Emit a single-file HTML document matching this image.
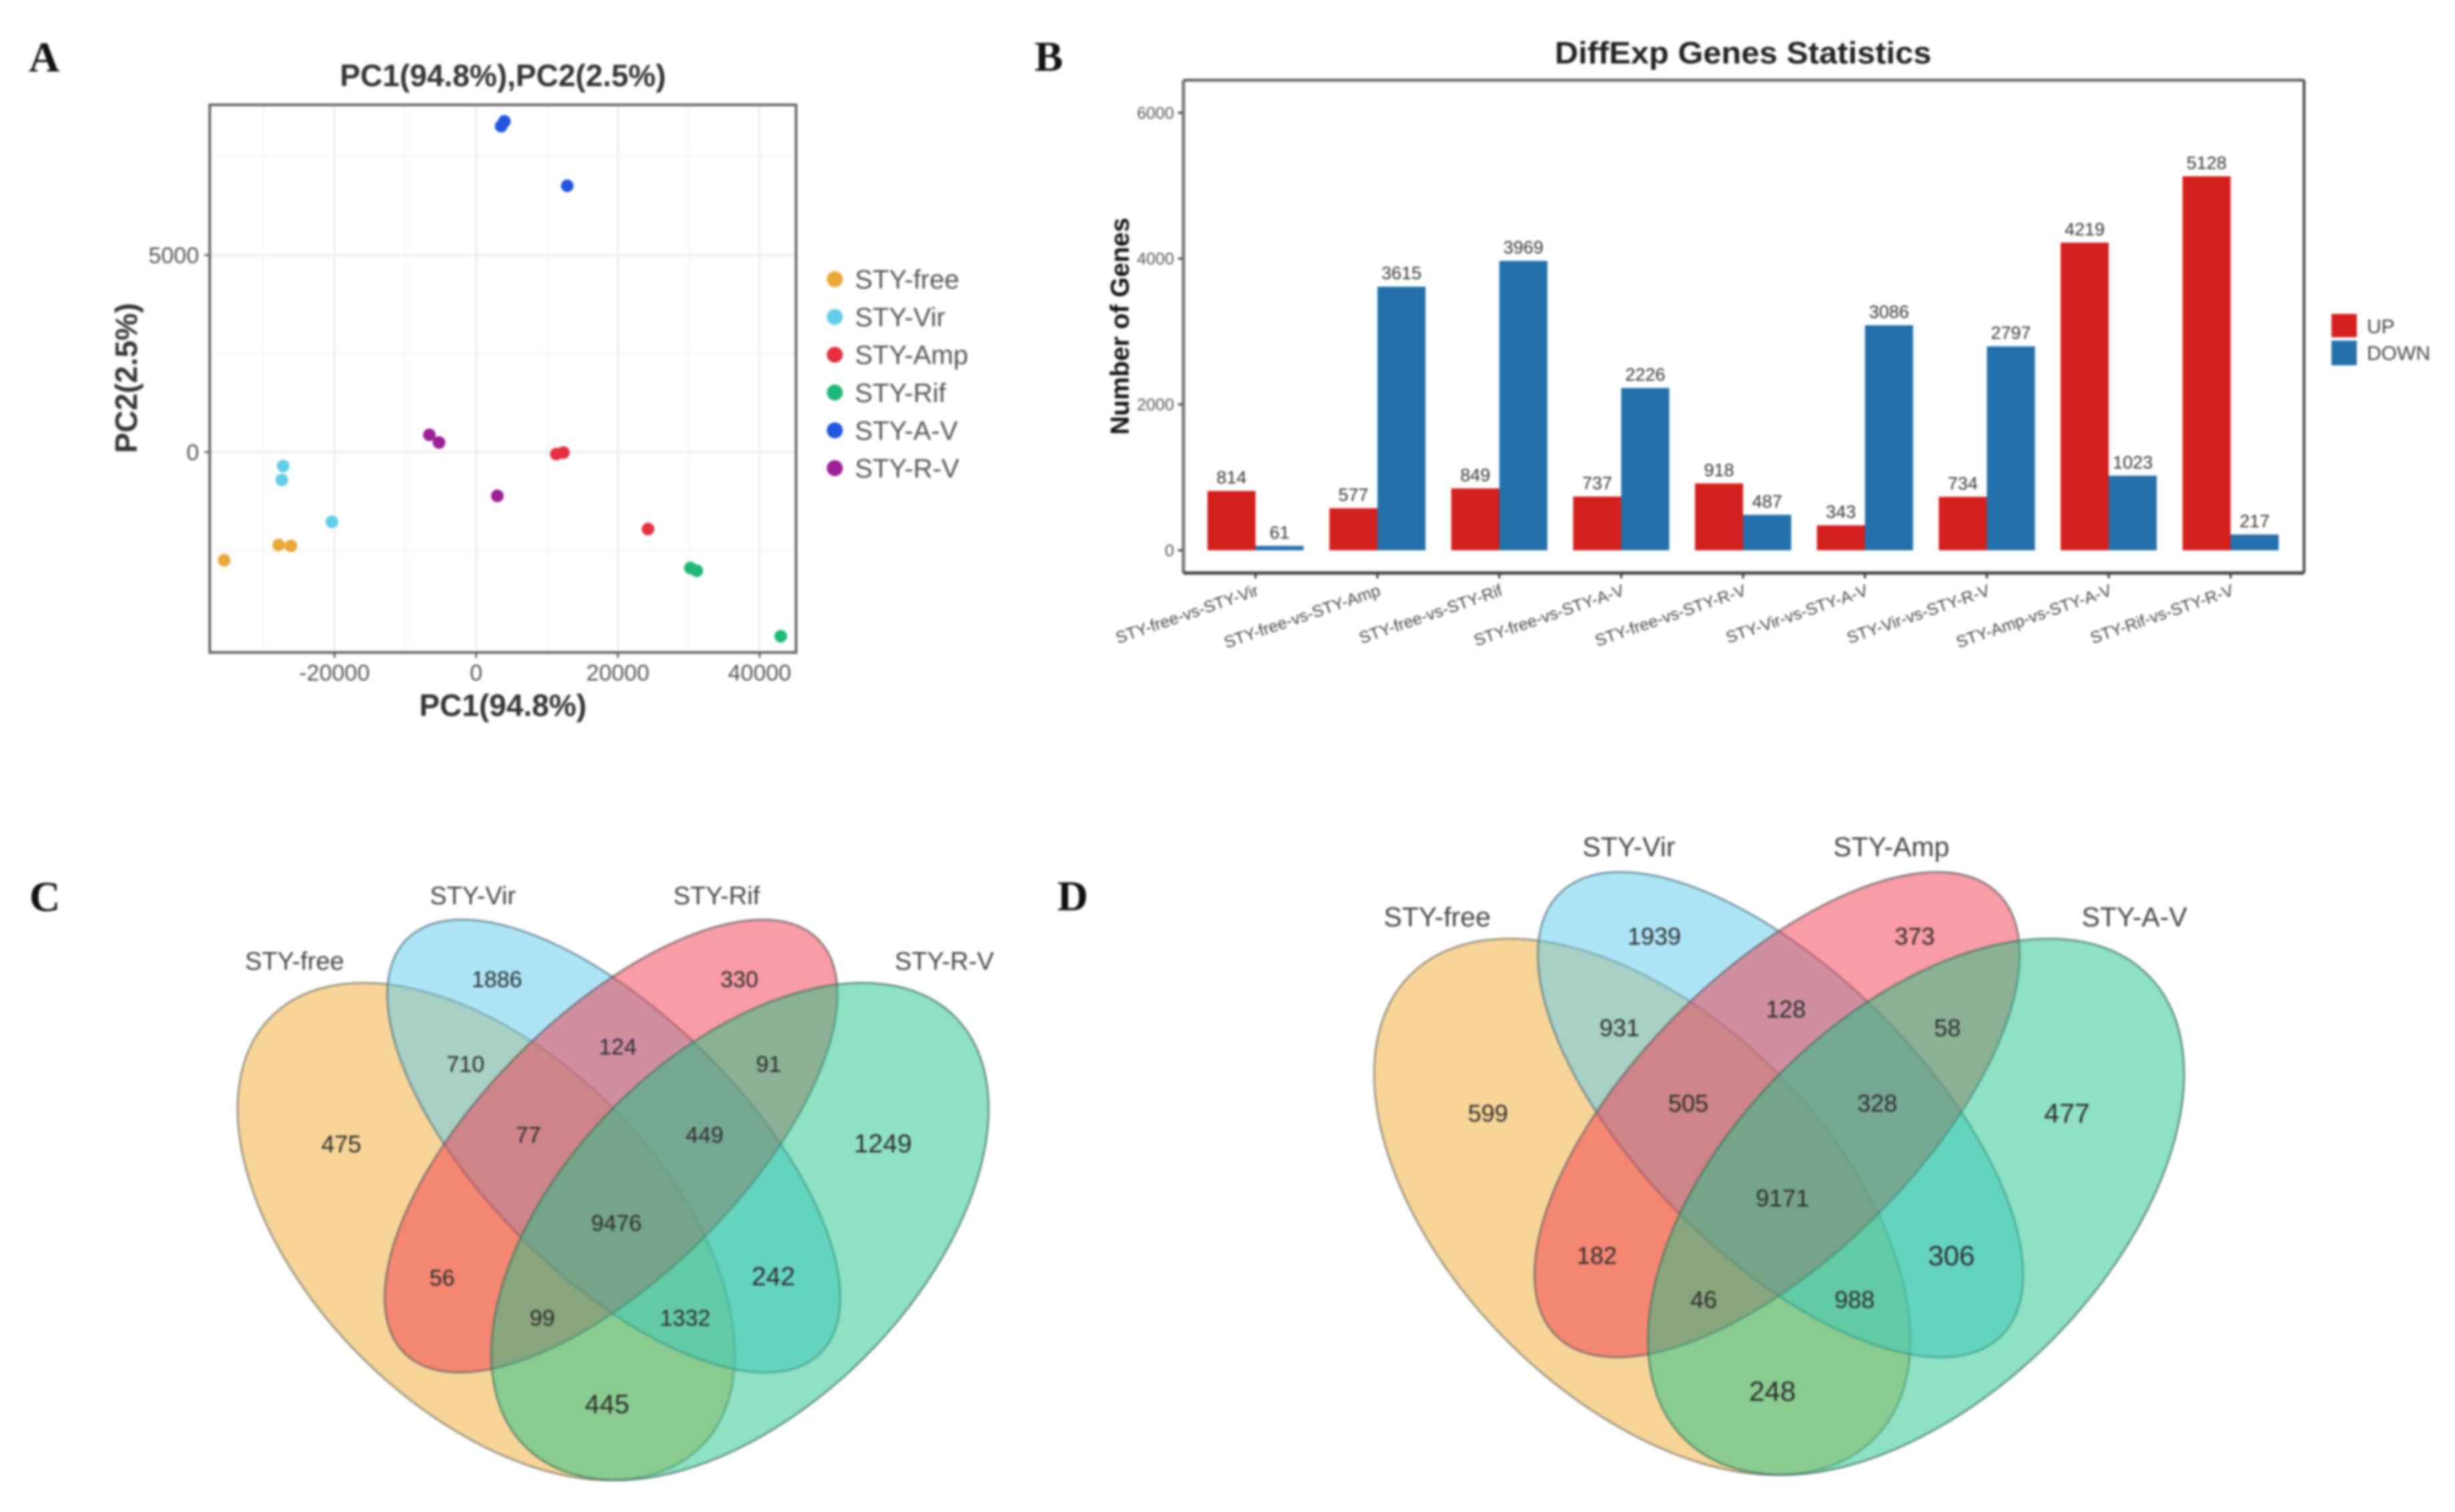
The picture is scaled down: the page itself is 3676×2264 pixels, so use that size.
<!DOCTYPE html>
<html lang="en">
<head>
<meta charset="utf-8">
<title>Transcriptome figure panels A-D</title>
<style>
html,body{margin:0;padding:0;background:#fff;}
svg{display:block;filter:blur(1.6px);}
text{font-family:"Liberation Sans",sans-serif;}
.letter{font-family:"Liberation Serif",serif;font-weight:bold;font-size:64px;fill:#111;}
.vlabel{font-size:38px;fill:#444;text-anchor:middle;dominant-baseline:central;}
.vnum{font-size:36px;fill:#2c2c2c;text-anchor:middle;dominant-baseline:central;}
.cnum{font-size:34px;}
.free{fill:#EFAC33;fill-opacity:.5;stroke:#6b6b5c;stroke-opacity:.65;stroke-width:3;}
.vir{fill:#5BCBF0;fill-opacity:.5;stroke:#4d6f7d;stroke-opacity:.7;stroke-width:3;}
.red{fill:#F23A4C;fill-opacity:.5;stroke:#5e5a5e;stroke-opacity:.7;stroke-width:3;}
.grn{fill:#1DC487;fill-opacity:.5;stroke:#3f6f5e;stroke-opacity:.7;stroke-width:3;}
</style>
</head>
<body>
<svg id="fig" xmlns="http://www.w3.org/2000/svg" width="3676" height="2264" viewBox="0 0 3676 2264">
  <rect width="3676" height="2264" fill="#fff"/>
  <text class="letter" x="43" y="107">A</text>
  <text class="letter" x="1549" y="106">B</text>
  <text class="letter" x="44" y="1364">C</text>
  <text class="letter" x="1583" y="1363">D</text>

  <g id="pca"></g>
  <g id="bars"></g>

  <g>
    <ellipse class="free" cx="728" cy="1844" rx="455" ry="265" transform="rotate(45 728 1844)"/>
    <ellipse class="vir" cx="919" cy="1716" rx="438" ry="195" transform="rotate(45 919 1716)"/>
    <ellipse class="red" cx="915" cy="1716" rx="438" ry="195" transform="rotate(-45 915 1716)"/>
    <ellipse class="grn" cx="1108" cy="1844" rx="455" ry="265" transform="rotate(-45 1108 1844)"/>
    <text class="vlabel" x="441" y="1440">STY-free</text>
    <text class="vlabel" x="708" y="1342">STY-Vir</text>
    <text class="vlabel" x="1073" y="1342">STY-Rif</text>
    <text class="vlabel" x="1414" y="1440">STY-R-V</text>
    <g>
      <text class="vnum cnum" x="744" y="1467">1886</text>
      <text class="vnum cnum" x="1107" y="1467">330</text>
      <text class="vnum cnum" x="697" y="1594">710</text>
      <text class="vnum cnum" x="925" y="1568">124</text>
      <text class="vnum cnum" x="1151" y="1594">91</text>
      <text class="vnum cnum" x="791" y="1700">77</text>
      <text class="vnum cnum" x="1055" y="1700">449</text>
      <text class="vnum" x="511" y="1713">475</text>
      <text class="vnum" x="1322" y="1713" style="font-size:39px">1249</text>
      <text class="vnum cnum" x="923" y="1832">9476</text>
      <text class="vnum cnum" x="662" y="1914">56</text>
      <text class="vnum" x="1158" y="1912" style="font-size:39px">242</text>
      <text class="vnum cnum" x="812" y="1974">99</text>
      <text class="vnum cnum" x="1026" y="1974">1332</text>
      <text class="vnum" x="909" y="2103" style="font-size:40px">445</text>
    </g>
  </g>

  <g>
    <ellipse class="free" cx="2459" cy="1807" rx="491" ry="285" transform="rotate(45 2459 1807)"/>
    <ellipse class="vir" cx="2666" cy="1669" rx="468" ry="212" transform="rotate(45 2666 1669)"/>
    <ellipse class="red" cx="2661" cy="1669" rx="468" ry="212" transform="rotate(-45 2661 1669)"/>
    <ellipse class="grn" cx="2869" cy="1807" rx="491" ry="285" transform="rotate(-45 2869 1807)"/>
    <text class="vlabel" x="2152" y="1373" style="font-size:41px">STY-free</text>
    <text class="vlabel" x="2439" y="1268" style="font-size:41px">STY-Vir</text>
    <text class="vlabel" x="2832" y="1268" style="font-size:41px">STY-Amp</text>
    <text class="vlabel" x="3196" y="1373" style="font-size:41px">STY-A-V</text>
    <g>
      <text class="vnum" x="2477" y="1402">1939</text>
      <text class="vnum" x="2867" y="1402">373</text>
      <text class="vnum" x="2425" y="1539">931</text>
      <text class="vnum" x="2674" y="1511">128</text>
      <text class="vnum" x="2916" y="1539">58</text>
      <text class="vnum" x="2528" y="1652">505</text>
      <text class="vnum" x="2811" y="1652">328</text>
      <text class="vnum" x="2228" y="1667">599</text>
      <text class="vnum" x="3095" y="1667" style="font-size:41px">477</text>
      <text class="vnum" x="2669" y="1794">9171</text>
      <text class="vnum" x="2391" y="1880">182</text>
      <text class="vnum" x="2922" y="1880" style="font-size:42px">306</text>
      <text class="vnum" x="2551" y="1946">46</text>
      <text class="vnum" x="2777" y="1946">988</text>
      <text class="vnum" x="2654" y="2083" style="font-size:42px">248</text>
    </g>
  </g>
</svg>

<script>
// ---- PCA data ----
const pcaGroups = ["STY-free", "STY-Vir", "STY-Amp", "STY-Rif", "STY-A-V", "STY-R-V"];
const pcaColors = ["#E9A93A", "#62CDE8", "#E5303F", "#1FB878", "#2255DD", "#9B1F96"];
const pc1Values = [
  [-35566, -27874, -26155],
  [-27240, -27420, -20360],
  [11312, 12308, 24254],
  [30227, 31132, 42988],
  [3530, 3982, 12851],
  [-6606, -5249, 2986]
];
const pc2Values = [
  [-2745, -2355, -2379],
  [-354, -708, -1769],
  [-49, -12, -1952],
  [-2940, -3013, -4673],
  [8272, 8394, 6759],
  [439, 244, -1110]
];
const pc1Ticks = [-20000, 0, 20000, 40000];
const pc1MinorTicks = [-30000, -10000, 10000, 30000];
const pc2Ticks = [0, 5000];
const pc2MinorTicks = [-2500, 2500, 7500];

// ---- Bar chart data ----
const comparisons = ["STY-free-vs-STY-Vir", "STY-free-vs-STY-Amp", "STY-free-vs-STY-Rif", "STY-free-vs-STY-A-V", "STY-free-vs-STY-R-V", "STY-Vir-vs-STY-A-V", "STY-Vir-vs-STY-R-V", "STY-Amp-vs-STY-A-V", "STY-Rif-vs-STY-R-V"];
const upCounts = [814, 577, 849, 737, 918, 343, 734, 4219, 5128];
const downCounts = [61, 3615, 3969, 2226, 487, 3086, 2797, 1023, 217];
const geneTicks = [0, 2000, 4000, 6000];

const NS = "http://www.w3.org/2000/svg";
function mk(parent, tag, attrs, txt) {
  const el = document.createElementNS(NS, tag);
  for (const k in attrs) el.setAttribute(k, attrs[k]);
  if (txt !== undefined) el.textContent = txt;
  parent.appendChild(el);
  return el;
}

// ---- Panel A ----
const pca = document.getElementById("pca");
const boxA = {l: 314, r: 1192, t: 157, b: 977};
function xA(v) { return 713 + v * 0.01061; }
function yA(v) { return 677 - v * 0.059; }

pc1MinorTicks.forEach(function (v) {
  const g = mk(pca, "line", {x1: xA(v), x2: xA(v), y1: boxA.t, y2: boxA.b, stroke: "#f3f3f3", "stroke-width": 2});
  
  
});
pc2MinorTicks.forEach(function (v) {
  const g = mk(pca, "line", {x1: boxA.l, x2: boxA.r, y1: yA(v), y2: yA(v), stroke: "#f3f3f3", "stroke-width": 2});
  
  
});
pc1Ticks.forEach(function (v) {
  const g = mk(pca, "line", {x1: xA(v), x2: xA(v), y1: boxA.t, y2: boxA.b, stroke: "#ededed", "stroke-width": 3});
  
  
  const t = mk(pca, "line", {x1: xA(v), x2: xA(v), y1: boxA.b, y2: boxA.b + 8, stroke: "#666", "stroke-width": 3});
  
  
  const l = mk(pca, "text", {x: xA(v), y: 1019, "text-anchor": "middle", "font-size": 34, fill: "#555"}, String(v));
  
  
});
pc2Ticks.forEach(function (v) {
  const g = mk(pca, "line", {x1: boxA.l, x2: boxA.r, y1: yA(v), y2: yA(v), stroke: "#ededed", "stroke-width": 3});
  
  
  const t = mk(pca, "line", {x1: boxA.l - 8, x2: boxA.l, y1: yA(v), y2: yA(v), stroke: "#666", "stroke-width": 3});
  
  
  const l = mk(pca, "text", {x: 298, y: yA(v) + 12, "text-anchor": "end", "font-size": 34, fill: "#555"}, String(v));
  
  
});
const frameA = mk(pca, "rect", {x: boxA.l, y: boxA.t, width: boxA.r - boxA.l, height: boxA.b - boxA.t, fill: "none", stroke: "#666", "stroke-width": 4});



pcaGroups.forEach(function (name, i) {
  pc1Values[i].forEach(function (v, j) {
    const c = mk(pca, "circle", {cx: xA(v), cy: yA(pc2Values[i][j]), r: 9.5, fill: pcaColors[i]});
    
    
  });
  const ly = 418 + i * 56.6;
  const d = mk(pca, "circle", {cx: 1250, cy: ly, r: 12, fill: pcaColors[i]});
  
  
  const t = mk(pca, "text", {x: 1280, y: ly + 14, "font-size": 40, fill: "#555"}, name);
  
  
});
const titleA = mk(pca, "text", {x: 753, y: 129, "text-anchor": "middle", "font-size": 46, "font-weight": "bold", fill: "#333"}, "PC1(94.8%),PC2(2.5%)");


const xTitleA = mk(pca, "text", {x: 753, y: 1072, "text-anchor": "middle", "font-size": 46, "font-weight": "bold", fill: "#333"}, "PC1(94.8%)");


const yTitleA = mk(pca, "text", {x: 0, y: 0, transform: "translate(205 566) rotate(-90)", "text-anchor": "middle", "font-size": 46, "font-weight": "bold", fill: "#333"}, "PC2(2.5%)");



// ---- Panel B ----
const bars = document.getElementById("bars");
const boxB = {l: 1772, r: 3450, t: 120, b: 858};
const barW = 72;
function yB(v) { return 824 - v * 0.1092; }
function xB(i) { return 1880 + i * 182.5; }

function drawBar(i, val, isUp) {
  const x = isUp ? xB(i) - barW : xB(i);
  const r = mk(bars, "rect", {x: x, y: yB(val), width: barW, height: yB(0) - yB(val), fill: isUp ? "#D3201F" : "#2470AA"});
  
  
  const t = mk(bars, "text", {x: x + barW / 2, y: yB(val) - 11, "text-anchor": "middle", "font-size": 27, fill: "#333"}, String(val));
  
  
}
comparisons.forEach(function (name, i) {
  drawBar(i, upCounts[i], true);
  drawBar(i, downCounts[i], false);
  const tk = mk(bars, "line", {x1: xB(i), x2: xB(i), y1: boxB.b, y2: boxB.b + 8, stroke: "#333", "stroke-width": 3});
  
  
  const lb = mk(bars, "text", {x: 0, y: 0, transform: "translate(" + (xB(i) + 6) + " 891) rotate(-19)", "text-anchor": "end", "font-size": 25, fill: "#444"}, name);
  
  
});
geneTicks.forEach(function (v) {
  const t = mk(bars, "line", {x1: boxB.l - 8, x2: boxB.l, y1: yB(v), y2: yB(v), stroke: "#333", "stroke-width": 3});
  
  
  const l = mk(bars, "text", {x: boxB.l - 14, y: yB(v) + 9, "text-anchor": "end", "font-size": 25, fill: "#555"}, String(v));
  
  
});
const frameLeft = mk(bars, "line", {x1: boxB.l, x2: boxB.l, y1: boxB.t, y2: boxB.b, stroke: "#777", "stroke-width": 5});


const frameTop = mk(bars, "line", {x1: boxB.l, x2: boxB.r, y1: boxB.t, y2: boxB.t, stroke: "#555", "stroke-width": 4});


const frameRight = mk(bars, "line", {x1: boxB.r, x2: boxB.r, y1: boxB.t, y2: boxB.b, stroke: "#444", "stroke-width": 4});


const frameBottom = mk(bars, "line", {x1: boxB.l, x2: boxB.r, y1: boxB.b, y2: boxB.b, stroke: "#444", "stroke-width": 5});



const titleB = mk(bars, "text", {x: 2610, y: 95, "text-anchor": "middle", "font-size": 46, "font-weight": "bold", fill: "#222", textLength: 564, lengthAdjust: "spacingAndGlyphs"}, "DiffExp Genes Statistics");


const yTitleB = mk(bars, "text", {x: 0, y: 0, transform: "translate(1690 488.5) rotate(-90)", "text-anchor": "middle", "font-size": 39, "font-weight": "bold", fill: "#111"}, "Number of Genes");



const swUp = mk(bars, "rect", {x: 3491, y: 470, width: 38, height: 35, fill: "#D3201F"});


const swDown = mk(bars, "rect", {x: 3491, y: 510, width: 38, height: 37, fill: "#2470AA"});


const lgUp = mk(bars, "text", {x: 3544, y: 499, "font-size": 30, fill: "#444"}, "UP");


const lgDown = mk(bars, "text", {x: 3544, y: 539, "font-size": 30, fill: "#444"}, "DOWN");


</script>
</body>
</html>
